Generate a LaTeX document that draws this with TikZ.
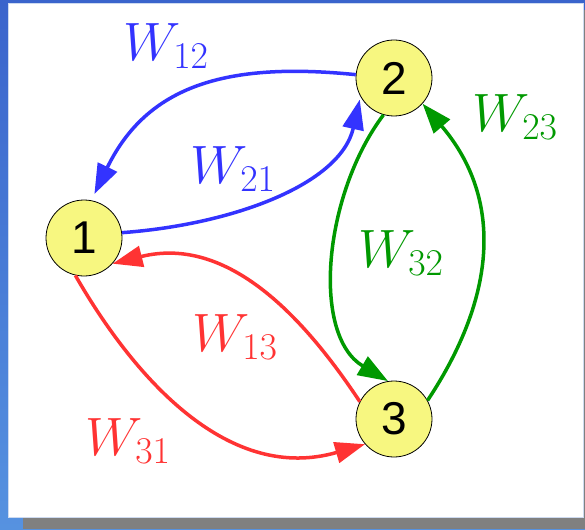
\RequirePackage{fix-cm}
\documentclass[tikz,border=0pt]{standalone}
\usepackage{fontspec}
\newfontfamily\statefont{Liberation Sans}
\usetikzlibrary{arrows.meta}
\definecolor{wblue}{RGB}{51,51,255}
\definecolor{wgreen}{RGB}{0,153,0}
\definecolor{wred}{RGB}{255,51,51}
\definecolor{stateyellow}{RGB}{247,247,128}
\definecolor{frametop}{RGB}{58,100,204}
\definecolor{framebottom}{RGB}{86,146,224}
\definecolor{shadowgray}{RGB}{128,128,128}
\definecolor{paneledge}{RGB}{205,218,240}

\begin{document}
\begin{tikzpicture}[x=1pt,y=-1pt,
  state/.style={circle, draw=black, line width=0.8pt, fill=stateyellow, minimum size=76pt, inner sep=0pt, font=\fontsize{46}{50}\statefont},
  rate/.style={font=\fontsize{54}{60}\selectfont, inner sep=0pt},
  link/.style={line width=3.5pt, -{Triangle[length=30pt,width=21pt]}}]
\useasboundingbox (0,0) rectangle (585,529);
% frame and shadow
\shade[top color=frametop, bottom color=framebottom] (0,0) rectangle (585,529);
\fill[shadowgray] (23,517) rectangle (585,529);
\fill[shadowgray] (583,10) rectangle (585,529);
\draw[draw=paneledge, line width=1pt, fill=white] (8,4) rectangle (583,517);

% states
\node[state] (n1) at (84,238) {1};
\node[state] (n2) at (394,78) {2};
\node[state] (n3) at (394,419) {3};

% rates between 1 and 2
\draw[link, wblue, shorten >=7pt] (n2.175) .. controls +(-129,-13) and +(56,-115) .. (n1.79);
\draw[link, wblue, shorten >=3pt] (n1.8) .. controls +(110,-8) and +(-20,88) .. (n2.209);
\node[rate, text=wblue] (w12) at (166,46) {$W_{12}$};
\node[rate, text=wblue] (w21) at (233,169) {$W_{21}$};

% rates between 2 and 3
\draw[link, wgreen] (n2.254) .. controls +(-60,80) and +(-77,-46) .. (n3.99);
\draw[link, wgreen] (n3.29) .. controls +(69,-104) and +(81,95) .. (n2.318);
\node[rate, text=wgreen] (w23) at (515,117) {$W_{23}$};
\node[rate, text=wgreen] (w32) at (401,253) {$W_{32}$};

% rates between 3 and 1
\draw[link, wred] (n3.153) .. controls +(-55,-83) and +(116,-29) .. (n1.318);
\draw[link, wred] (n1.257) .. controls +(62,108) and +(-134,39) .. (n3.221);
\node[rate, text=wred] (w13) at (235,337) {$W_{13}$};
\node[rate, text=wred] (w31) at (128,441) {$W_{31}$};
\end{tikzpicture}
\end{document}
